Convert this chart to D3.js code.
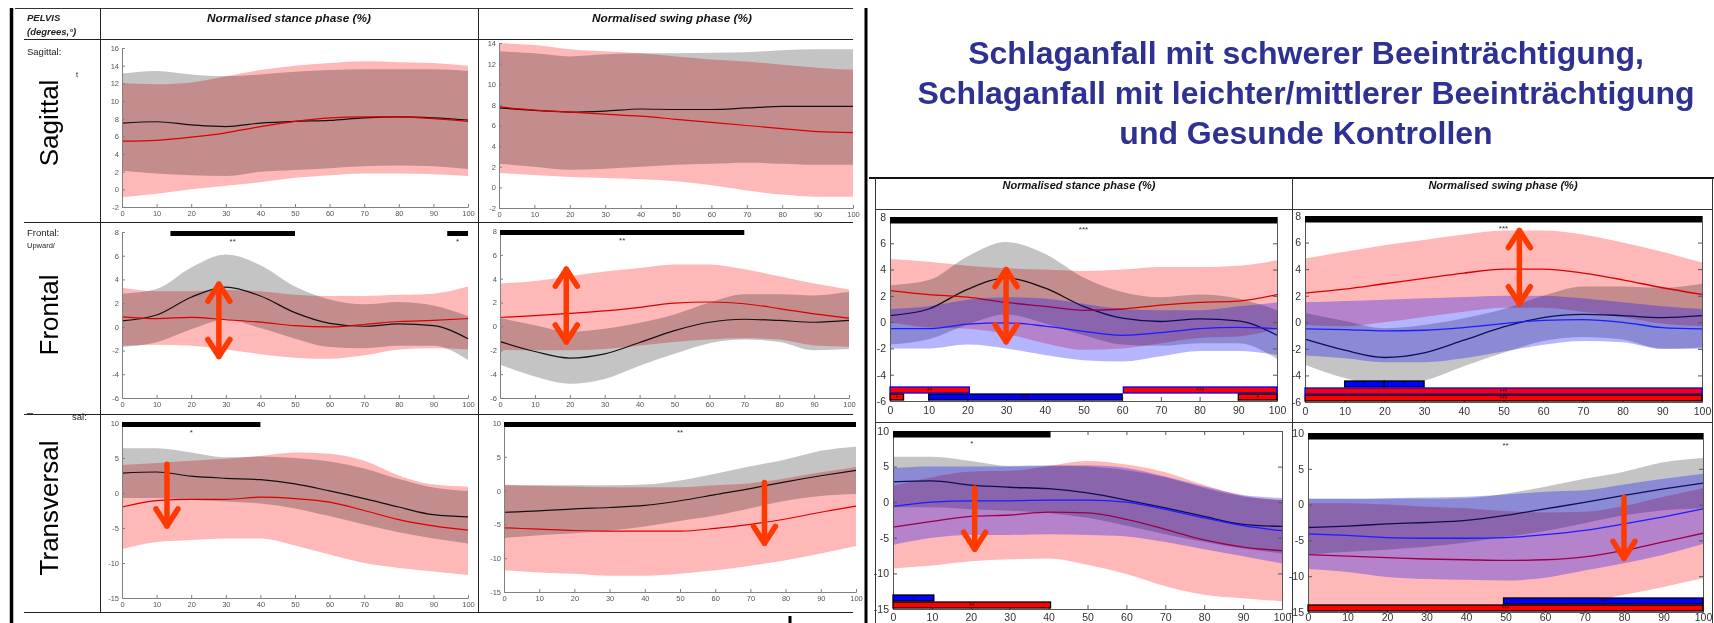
<!DOCTYPE html>
<html>
<head>
<meta charset="utf-8">
<script src="https://cdn.jsdelivr.net/npm/d3@7"></script>
<style>
  body { margin: 0; background: #fff; }
  svg { display: block; }
  text { font-family: "Liberation Sans", Arial, sans-serif; }
</style>
</head>
<body>
<svg id="fig" width="1714" height="623"></svg>
<script>
// ---------------- data: pelvis kinematics, mean and ±1 SD, % of phase ----------------
const pct = [0, 10, 20, 30, 40, 50, 60, 70, 80, 90, 100];
const pctTicks = [0, 10, 20, 30, 40, 50, 60, 70, 80, 90, 100];

// y tick labels
const sagStTicks = [-2, 0, 2, 4, 6, 8, 10, 12, 14, 16];
const sagSwTicks = [-2, 0, 2, 4, 6, 8, 10, 12, 14];
const froTicks = [-6, -4, -2, 0, 2, 4, 6, 8];
const traTicks = [-15, -10, -5, 0, 5, 10];

// Sagittal, stance
const sagStCtrlMean = [7.5, 7.65, 7.3, 7.1, 7.5, 7.7, 7.8, 8.1, 8.2, 8.1, 7.85];
const sagStCtrlUp   = [13.1, 13.4, 13.0, 12.8, 13.0, 13.3, 13.5, 13.6, 13.6, 13.6, 13.4];
const sagStCtrlLo   = [2.1, 1.8, 1.6, 1.5, 2.0, 2.2, 2.4, 2.6, 2.7, 2.6, 2.3];
const sagStPatMean  = [5.45, 5.55, 5.9, 6.4, 7.1, 7.7, 8.1, 8.2, 8.2, 8.0, 7.7];
const sagStPatUp    = [12.0, 11.9, 12.1, 12.8, 13.5, 14.0, 14.3, 14.5, 14.4, 14.3, 14.0];
const sagStPatLo    = [-0.9, -0.5, 0.0, 0.4, 0.8, 1.3, 1.6, 1.8, 1.8, 1.7, 1.5];

// Sagittal, swing
const sagSwCtrlMean = [7.7, 7.47, 7.3, 7.4, 7.6, 7.55, 7.55, 7.7, 7.85, 7.85, 7.85];
const sagSwCtrlUp   = [13.2, 13.0, 12.7, 12.9, 13.0, 13.0, 13.05, 13.1, 13.3, 13.4, 13.4];
const sagSwCtrlLo   = [2.3, 2.0, 1.7, 1.8, 2.0, 2.2, 2.3, 2.4, 2.3, 2.2, 2.2];
const sagSwPatMean  = [7.8, 7.5, 7.3, 7.1, 6.9, 6.6, 6.3, 6.0, 5.7, 5.4, 5.3];
const sagSwPatUp    = [14.0, 13.8, 13.4, 13.2, 13.0, 12.7, 12.4, 12.2, 11.9, 11.6, 11.4];
const sagSwPatLo    = [1.4, 1.2, 1.0, 0.9, 0.8, 0.6, 0.2, -0.3, -0.7, -0.9, -0.9];

// Frontal, stance
const froStCtrlMean = [0.5, 1.0, 2.5, 3.35, 2.6, 1.2, 0.3, 0.05, 0.25, 0.1, -1.0];
const froStCtrlUp   = [2.8, 3.2, 5.0, 6.1, 5.2, 3.4, 2.3, 1.9, 2.1, 1.8, 0.9];
const froStCtrlLo   = [-1.7, -1.3, -0.2, 0.6, -0.1, -1.0, -1.7, -1.8, -1.6, -1.6, -2.8];
const froStPatMean  = [0.85, 0.7, 0.8, 0.6, 0.4, 0.1, 0.0, 0.2, 0.45, 0.55, 0.7];
const froStPatUp    = [3.3, 3.0, 3.0, 3.1, 3.0, 2.7, 2.6, 2.6, 2.7, 2.8, 3.4];
const froStPatLo    = [-1.6, -1.5, -1.6, -1.9, -2.3, -2.6, -2.7, -2.4, -1.9, -1.8, -1.9];
const froStSevMean  = [2.4, 2.1, 1.9, 1.5, 1.2, 0.9, 1.0, 1.3, 1.5, 1.6, 2.1];
const froStSevUp    = [4.8, 4.6, 4.3, 4.1, 4.0, 3.9, 4.0, 4.2, 4.2, 4.3, 4.7];
const froStSevLo    = [0.0, -0.4, -0.5, -0.9, -1.6, -2.1, -2.0, -1.6, -1.2, -1.1, -0.5];
const froStMildMean = [-0.5, -0.5, -0.15, -0.05, -0.3, -0.7, -1.0, -0.8, -0.5, -0.4, -0.5];
const froStMildUp   = [1.0, 1.2, 1.7, 1.9, 1.8, 1.4, 1.0, 0.9, 0.9, 1.2, 1.5];
const froStMildLo   = [-2.0, -2.0, -1.7, -2.0, -2.5, -2.9, -3.0, -2.6, -2.2, -2.2, -2.5];

// Frontal, swing
const froSwCtrlMean = [-1.27, -2.1, -2.65, -2.3, -1.35, -0.35, 0.35, 0.6, 0.5, 0.35, 0.5];
const froSwCtrlUp   = [0.7, 0.1, -0.45, -0.2, 0.3, 1.0, 2.0, 2.7, 2.7, 2.6, 2.9];
const froSwCtrlLo   = [-3.2, -4.2, -4.8, -4.4, -3.3, -2.3, -1.4, -1.1, -1.3, -2.0, -1.9];
const froSwPatMean  = [0.75, 0.9, 1.1, 1.3, 1.6, 1.95, 2.05, 1.9, 1.5, 1.05, 0.7];
const froSwPatUp    = [3.6, 3.8, 4.2, 4.6, 4.9, 5.2, 5.2, 4.8, 4.2, 3.6, 3.1];
const froSwPatLo    = [-1.95, -2.0, -2.0, -1.9, -1.6, -1.3, -1.1, -1.0, -1.1, -1.6, -1.7];
const froSwSevMean  = [2.2, 2.5, 2.9, 3.3, 3.7, 4.0, 4.0, 3.7, 3.2, 2.6, 2.1];
const froSwSevUp    = [4.8, 5.3, 5.8, 6.2, 6.6, 6.9, 6.9, 6.6, 6.0, 5.3, 4.5];
const froSwSevLo    = [-0.2, -0.3, 0.0, 0.4, 0.8, 1.1, 1.1, 0.8, 0.4, -0.1, -0.3];
const froSwMildMean = [-0.5, -0.55, -0.65, -0.6, -0.4, -0.1, 0.15, 0.2, 0.0, -0.4, -0.5];
const froSwMildUp   = [1.5, 1.6, 1.7, 1.8, 1.9, 2.0, 2.0, 1.8, 1.5, 1.2, 1.0];
const froSwMildLo   = [-2.5, -2.7, -3.0, -3.0, -2.7, -2.2, -1.7, -1.4, -1.5, -2.0, -2.0];

// Transversal, stance
const traStCtrlMean = [2.85, 3.0, 2.4, 2.1, 1.9, 1.3, 0.3, -0.8, -2.0, -3.1, -3.4];
const traStCtrlUp   = [6.4, 6.4, 5.8, 5.1, 5.2, 5.0, 4.5, 3.5, 2.0, 0.8, 0.3];
const traStCtrlLo   = [-0.7, -0.7, -1.0, -1.2, -1.5, -2.2, -3.3, -4.5, -5.6, -6.5, -7.2];
const traStPatMean  = [-2.0, -1.1, -0.9, -0.9, -0.6, -0.8, -1.3, -2.5, -3.8, -4.7, -5.3];
const traStPatUp    = [4.0, 4.3, 4.6, 4.9, 5.3, 5.8, 5.6, 4.6, 2.5, 1.2, 0.9];
const traStPatLo    = [-8.0, -7.0, -6.7, -6.5, -6.5, -7.5, -8.8, -10.0, -10.7, -11.2, -11.7];
const traStSevMean  = [-3.5, -2.7, -2.0, -1.8, -1.4, -1.5, -2.4, -3.8, -5.3, -6.3, -6.8];
const traStSevUp    = [2.3, 3.5, 4.3, 4.4, 5.1, 5.8, 5.3, 4.2, 2.4, 0.9, 0.3];
const traStSevLo    = [-9.3, -8.9, -8.3, -8.0, -7.9, -8.8, -10.1, -11.8, -13.0, -13.5, -13.9];
const traStMildMean = [-0.6, 0.0, 0.2, 0.2, 0.3, 0.3, 0.0, -1.0, -2.2, -3.3, -4.0];
const traStMildUp   = [4.8, 5.0, 5.0, 5.0, 5.1, 5.2, 4.8, 3.6, 2.2, 1.0, 0.6];
const traStMildLo   = [-6.0, -5.0, -4.6, -4.6, -4.5, -4.6, -4.8, -5.6, -6.6, -7.6, -8.6];

// Transversal, swing
const traSwCtrlMean = [-3.2, -3.0, -2.7, -2.5, -2.2, -1.5, -0.6, 0.3, 1.3, 2.2, 3.0];
const traSwCtrlUp   = [0.8, 0.8, 0.8, 0.8, 0.9, 1.5, 2.5, 3.6, 4.6, 5.9, 6.5];
const traSwCtrlLo   = [-7.0, -6.6, -6.3, -5.9, -5.3, -4.5, -3.7, -2.6, -1.5, -0.8, -0.5];
const traSwPatMean  = [-5.5, -5.7, -5.9, -6.0, -6.0, -6.0, -5.6, -5.0, -4.2, -3.2, -2.3];
const traSwPatUp    = [0.9, 0.7, 0.6, 0.5, 0.5, 0.5, 0.8, 1.1, 1.8, 2.7, 3.5];
const traSwPatLo    = [-11.8, -12.1, -12.3, -12.6, -12.6, -12.3, -11.8, -11.1, -10.3, -9.3, -8.2];
const traSwSevMean  = [-7.0, -7.2, -7.4, -7.6, -7.7, -7.8, -7.7, -7.3, -6.4, -5.2, -4.0];
const traSwSevUp    = [0.2, 0.2, 0.0, -0.3, -0.5, -0.9, -1.1, -1.0, -0.2, 1.1, 2.3];
const traSwSevLo    = [-14.5, -14.6, -14.8, -14.9, -14.9, -14.7, -14.3, -13.6, -12.6, -11.5, -10.3];
const traSwMildMean = [-4.1, -4.3, -4.6, -4.7, -4.7, -4.6, -4.2, -3.6, -2.7, -1.7, -0.6];
const traSwMildUp   = [0.8, 0.8, 0.9, 1.0, 1.1, 1.4, 1.8, 2.0, 2.8, 3.6, 4.3];
const traSwMildLo   = [-9.0, -9.4, -10.1, -10.4, -10.5, -10.6, -10.2, -9.2, -8.2, -7.0, -5.5];

// significant stretches of the phase (% from-to) with star level
const froStSig = [{from: 14, to: 50, stars: "**"}, {from: 94, to: 100, stars: "*"}];
const froSwSig = [{from: 0, to: 70, stars: "**"}];
const traStSig = [{from: 0, to: 40, stars: "*"}];
const traSwSig = [{from: 0, to: 100, stars: "**"}];

const froStSig3 = [{from: 0, to: 100, stars: "***"}];
const froSwSig3 = [{from: 0, to: 100, stars: "***"}];
const traStSig3 = [{from: 0, to: 40.5, stars: "*"}];
const traSwSig3 = [{from: 0, to: 100, stars: "**"}];

// pairwise post-hoc stretches: comparison, lane, % from-to, stars
const froStPairs = [
  {cmp: "sevMild", lane: 1, from: 0, to: 20.5, stars: "**"},
  {cmp: "sevMild", lane: 1, from: 60.3, to: 100, stars: "***"},
  {cmp: "sevCtrl", lane: 0, from: 0, to: 3.5, stars: "*"},
  {cmp: "mildCtrl", lane: 0, from: 10, to: 60, stars: "***"},
  {cmp: "sevCtrl", lane: 0, from: 90, to: 100, stars: "*"}
];
const froSwPairs = [
  {cmp: "mildCtrl", lane: 2, from: 10, to: 20, stars: "*"},
  {cmp: "mildCtrl", lane: 2, from: 20, to: 30, stars: "*"},
  {cmp: "sevMild", lane: 1, from: 0, to: 100, stars: "***"},
  {cmp: "sevCtrl", lane: 0, from: 0, to: 100, stars: "***"}
];
const traStPairs = [
  {cmp: "mildCtrl", lane: 1, from: 0, to: 10.5, stars: "*"},
  {cmp: "sevCtrl", lane: 0, from: 0, to: 40.5, stars: "**"}
];
const traSwPairs = [
  {cmp: "mildCtrl", lane: 1, from: 49.5, to: 100, stars: "**"},
  {cmp: "sevCtrl", lane: 0, from: 0, to: 100, stars: "***"}
];

// highlighted differences (% of phase, degrees from -> to)
const froStArrow = {x: 28, from: 3.6, to: -2.5, both: true};
const froSwArrow = {x: 19, from: 4.8, to: -1.3, both: true};
const traStArrow = {x: 13, from: 4.1, to: -4.7, both: false};
const traSwArrow = {x: 74, from: 1.2, to: -7.8, both: false};
const froStArrow3 = {x: 30, from: 4.0, to: -1.5, both: true};
const froSwArrow3 = {x: 54, from: 6.9, to: 1.4, both: true};
const traStArrow3 = {x: 21, from: 2.0, to: -6.6, both: false};
const traSwArrow3 = {x: 80, from: 1.0, to: -7.5, both: false};

// ---------------- styles ----------------
const STY = {
  ctrl: {band: "#c4c4c4", op: 1, blend: "multiply", line: "#141414"},
  pat:  {band: "#ffb8b8", op: 1, blend: "multiply", line: "#d80000"},
  mild: {band: "#0000ff", op: 0.29, blend: "normal", line: "#1c1cff"}
};
const PAIR = {
  sevMild:  {fill: "#ff0000", stroke: "#0000ff"},
  sevCtrl:  {fill: "#ff0000", stroke: "#000000"},
  mildCtrl: {fill: "#0000ff", stroke: "#000000"}
};
const ARROW = "#ff3a00";

const grp = (kind, mean, up, lo) => ({kind, mean, up, lo});

// ---------------- panel layout ----------------
const panels = [
  {box: [122, 48, 468, 207], dom: [-2, 16], ticks: sagStTicks, frame: false,
   groups: [grp("ctrl", sagStCtrlMean, sagStCtrlUp, sagStCtrlLo), grp("pat", sagStPatMean, sagStPatUp, sagStPatLo)],
   sig: [], pairs: [], arrow: null},
  {box: [499, 43, 853, 208], dom: [-2, 14], ticks: sagSwTicks, frame: false,
   groups: [grp("ctrl", sagSwCtrlMean, sagSwCtrlUp, sagSwCtrlLo), grp("pat", sagSwPatMean, sagSwPatUp, sagSwPatLo)],
   sig: [], pairs: [], arrow: null},
  {box: [122, 232, 468, 398], dom: [-6, 8], ticks: froTicks, frame: false,
   groups: [grp("ctrl", froStCtrlMean, froStCtrlUp, froStCtrlLo), grp("pat", froStPatMean, froStPatUp, froStPatLo)],
   sig: froStSig, pairs: [], arrow: froStArrow},
  {box: [500, 231, 849, 398], dom: [-6, 8], ticks: froTicks, frame: false,
   groups: [grp("ctrl", froSwCtrlMean, froSwCtrlUp, froSwCtrlLo), grp("pat", froSwPatMean, froSwPatUp, froSwPatLo)],
   sig: froSwSig, pairs: [], arrow: froSwArrow},
  {box: [122, 423, 468, 598], dom: [-15, 10], ticks: traTicks, frame: false,
   groups: [grp("ctrl", traStCtrlMean, traStCtrlUp, traStCtrlLo), grp("pat", traStPatMean, traStPatUp, traStPatLo)],
   sig: traStSig, pairs: [], arrow: traStArrow},
  {box: [504, 423, 856, 592], dom: [-15, 10], ticks: traTicks, frame: false,
   groups: [grp("ctrl", traSwCtrlMean, traSwCtrlUp, traSwCtrlLo), grp("pat", traSwPatMean, traSwPatUp, traSwPatLo)],
   sig: traSwSig, pairs: [], arrow: traSwArrow},

  {box: [890, 217, 1277, 401], dom: [-6, 8], ticks: froTicks, frame: true,
   groups: [grp("ctrl", froStCtrlMean, froStCtrlUp, froStCtrlLo), grp("pat", froStSevMean, froStSevUp, froStSevLo),
            grp("mild", froStMildMean, froStMildUp, froStMildLo)],
   sig: froStSig3, pairs: froStPairs, arrow: froStArrow3},
  {box: [1305, 216, 1702, 402], dom: [-6, 8], ticks: froTicks, frame: true,
   groups: [grp("ctrl", froSwCtrlMean, froSwCtrlUp, froSwCtrlLo), grp("pat", froSwSevMean, froSwSevUp, froSwSevLo),
            grp("mild", froSwMildMean, froSwMildUp, froSwMildLo)],
   sig: froSwSig3, pairs: froSwPairs, arrow: froSwArrow3},
  {box: [893, 431, 1282, 609], dom: [-15, 10], ticks: traTicks, frame: true,
   groups: [grp("ctrl", traStCtrlMean, traStCtrlUp, traStCtrlLo), grp("pat", traStSevMean, traStSevUp, traStSevLo),
            grp("mild", traStMildMean, traStMildUp, traStMildLo)],
   sig: traStSig3, pairs: traStPairs, arrow: traStArrow3},
  {box: [1308, 433, 1703, 612], dom: [-15, 10], ticks: traTicks, frame: true,
   groups: [grp("ctrl", traSwCtrlMean, traSwCtrlUp, traSwCtrlLo), grp("pat", traSwSevMean, traSwSevUp, traSwSevLo),
            grp("mild", traSwMildMean, traSwMildUp, traSwMildLo)],
   sig: traSwSig3, pairs: traSwPairs, arrow: traSwArrow3}
];

// ---------------- drawing ----------------
const W = 1714, H = 623;
const svg = d3.select("#fig");
svg.append("rect").attr("width", W).attr("height", H).attr("fill", "#fff");

function hline(x1, x2, y, w, c) {
  svg.append("line").attr("x1", x1).attr("x2", x2).attr("y1", y).attr("y2", y)
    .attr("stroke", c || "#222").attr("stroke-width", w || 1);
}
function vline(x, y1, y2, w, c) {
  svg.append("line").attr("x1", x).attr("x2", x).attr("y1", y1).attr("y2", y2)
    .attr("stroke", c || "#222").attr("stroke-width", w || 1);
}

// left table grid
vline(11.5, 8, 623, 3.5, "#000");
vline(866, 8, 623, 3, "#000");
hline(15, 853, 8.5, 1, "#333");
hline(24, 853, 39.5);
hline(24, 853, 222.5);
hline(24, 853, 414.5);
hline(24, 853, 612.5);
vline(100.5, 8, 612);
vline(478.5, 8, 612);
vline(790, 616, 623, 3, "#000");

// right table grid
hline(869, 1714, 178, 2, "#111");
hline(875, 1712, 209.5, 1, "#333");
hline(875, 1712, 422.5, 1, "#333");
vline(875.5, 178, 623, 1, "#333");
vline(1292.5, 178, 623, 1, "#333");
vline(1712.5, 178, 623, 1, "#333");

// headers
const hdr = (x, y, s, size) => svg.append("text").attr("x", x).attr("y", y).attr("text-anchor", "middle")
  .attr("font-size", size).attr("font-weight", "bold").attr("font-style", "italic").attr("fill", "#111").text(s);
hdr(289, 22, "Normalised stance phase (%)", 11.8);
hdr(672, 22, "Normalised swing phase (%)", 11.8);
hdr(1079, 189, "Normalised stance phase (%)", 11);
hdr(1503, 189, "Normalised swing phase (%)", 11);

const small = (x, y, s, size, opts) => {
  const t = svg.append("text").attr("x", x).attr("y", y).attr("font-size", size).attr("fill", "#222").text(s);
  if (opts && opts.bi) t.attr("font-weight", "bold").attr("font-style", "italic");
  return t;
};
small(27, 21, "PELVIS", 9.5, {bi: true});
small(27, 35, "(degrees,°)", 9.5, {bi: true});
small(27, 55, "Sagittal:", 9.5);
small(76, 77, "t", 7.5);
small(27, 236, "Frontal:", 9.5);
small(27, 248, "Upward/", 7.5);
small(72, 420, "sal:", 9.5);
hline(27, 33, 413.5, 1, "#555");

// big row labels
[["Sagittal", 123], ["Frontal", 315], ["Transversal", 508]].forEach(([s, cy]) => {
  svg.append("text").attr("transform", `translate(58,${cy}) rotate(-90)`)
    .attr("text-anchor", "middle").attr("font-size", 26).attr("fill", "#000").text(s);
});

// title
const title = [
  "Schlaganfall mit schwerer Beeinträchtigung,",
  "Schlaganfall mit leichter/mittlerer Beeinträchtigung",
  "und Gesunde Kontrollen"
];
svg.append("text").attr("x", 1306).attr("y", 64).attr("text-anchor", "middle")
  .attr("font-size", 32).attr("font-weight", "bold").attr("fill", "#2e3192")
  .selectAll("tspan").data(title).join("tspan")
  .attr("x", 1306).attr("dy", (d, i) => i === 0 ? 0 : 40).text(d => d);

function drawArrow(g, xs, ys, a) {
  const X = xs(a.x), Ya = ys(a.from), Yb = ys(a.to);
  const hw = 11, hh = 17;
  const s = g.append("g").attr("stroke", ARROW).attr("stroke-width", 5.5).attr("fill", "none")
    .attr("stroke-linecap", "round").attr("stroke-linejoin", "round");
  s.append("line").attr("x1", X).attr("x2", X).attr("y1", Ya).attr("y2", Yb);
  s.append("path").attr("d", `M${X - hw},${Yb - hh}L${X},${Yb}L${X + hw},${Yb - hh}`);
  if (a.both) s.append("path").attr("d", `M${X - hw},${Ya + hh}L${X},${Ya}L${X + hw},${Ya + hh}`);
}

// plain hyphen-minus tick labels
const plain = d => String(d);

function drawPanel(p) {
  const [x0, y0, x1, y1] = p.box;
  const xs = d3.scaleLinear().domain([0, 100]).range([x0, x1]);
  const ys = d3.scaleLinear().domain(p.dom).range([y1, y0]);
  const g = svg.append("g");

  p.groups.forEach(gr => {
    const st = STY[gr.kind];
    const area = d3.area().curve(d3.curveMonotoneX)
      .x((d, i) => xs(pct[i])).y0((d, i) => ys(gr.lo[i])).y1((d, i) => ys(gr.up[i]));
    g.append("path").datum(gr.mean).attr("d", area).attr("fill", st.band)
      .attr("fill-opacity", st.op).style("mix-blend-mode", st.blend);
    const line = d3.line().curve(d3.curveMonotoneX).x((d, i) => xs(pct[i])).y(d => ys(d));
    g.append("path").datum(gr.mean).attr("d", line).attr("fill", "none")
      .attr("stroke", st.line).attr("stroke-width", p.frame ? 1.3 : 1.2);
  });

  // axes
  const fs = p.frame ? 10.5 : 7.5;
  const tk = p.frame ? -4 : -3;
  const col = p.frame ? "#555" : "#808080";
  const lab = p.frame ? "#333" : "#555";
  // keep x tick labels inside the page for plots that sit on the bottom edge
  const xPad = Math.max(1, Math.min(p.frame ? 6 : 4, H - 1.5 - y1 - 0.72 * fs));
  const styleAxis = (sel, showLabels) => {
    sel.select(".domain").attr("stroke", col);
    sel.selectAll(".tick line").attr("stroke", col);
    sel.selectAll(".tick text").attr("font-size", fs).attr("fill", lab)
      .attr("font-family", "'Liberation Sans', Arial, sans-serif");
    if (!showLabels) sel.selectAll(".tick text").remove();
  };
  g.append("g").attr("transform", `translate(0,${y1})`)
    .call(d3.axisBottom(xs).tickValues(pctTicks).tickFormat(plain).tickSize(tk).tickSizeOuter(0)
      .tickPadding(xPad))
    .call(s => styleAxis(s, true));
  g.append("g").attr("transform", `translate(${x0},0)`)
    .call(d3.axisLeft(ys).tickValues(p.ticks).tickFormat(plain).tickSize(tk).tickSizeOuter(0)
      .tickPadding(p.frame ? 4 : 3))
    .call(s => styleAxis(s, true));
  if (p.frame) {
    g.append("g").attr("transform", `translate(0,${y0})`)
      .call(d3.axisTop(xs).tickValues(pctTicks).tickSize(tk).tickSizeOuter(0))
      .call(s => styleAxis(s, false));
    g.append("g").attr("transform", `translate(${x1},0)`)
      .call(d3.axisRight(ys).tickValues(p.ticks).tickSize(tk).tickSizeOuter(0))
      .call(s => styleAxis(s, false));
  }

  // overall significance bars along the top
  p.sig.forEach(s => {
    const top = p.frame ? y0 : y0 - 1;
    const h = p.frame ? 6.5 : 5;
    g.append("rect").attr("x", xs(s.from)).attr("y", top).attr("width", xs(s.to) - xs(s.from))
      .attr("height", h).attr("fill", "#000");
    g.append("text").attr("x", xs((s.from + s.to) / 2)).attr("y", top + h + 8)
      .attr("text-anchor", "middle").attr("font-size", 8).attr("fill", "#333").text(s.stars);
  });

  // pairwise bars along the bottom
  p.pairs.forEach(s => {
    const st = PAIR[s.cmp];
    const top = y1 - 7 * (s.lane + 1);
    g.append("rect").attr("x", xs(s.from)).attr("y", top).attr("width", xs(s.to) - xs(s.from))
      .attr("height", 6).attr("fill", st.fill).attr("stroke", st.stroke).attr("stroke-width", 1.3);
    g.append("text").attr("x", xs((s.from + s.to) / 2)).attr("y", top + 6)
      .attr("text-anchor", "middle").attr("font-size", 7).attr("fill", "#300").text(s.stars);
  });

  if (p.arrow) drawArrow(g, xs, ys, p.arrow);
}

panels.forEach(drawPanel);
</script>
</body>
</html>
